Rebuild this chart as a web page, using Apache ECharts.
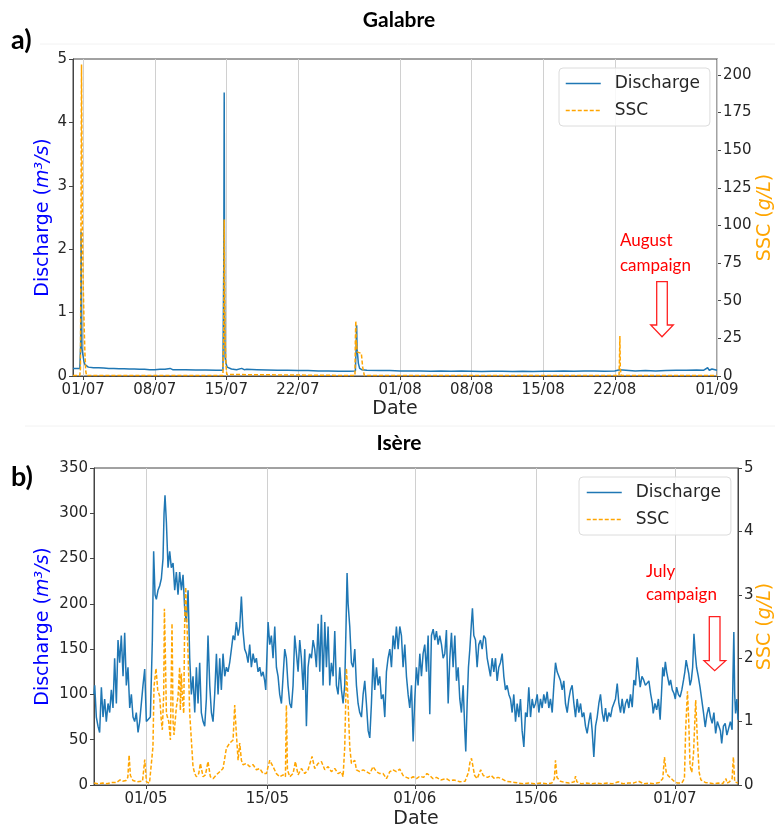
<!DOCTYPE html>
<html><head><meta charset="utf-8">
<script src="https://cdn.jsdelivr.net/npm/echarts@6/dist/echarts.min.js"></script>
<style>html,body{margin:0;padding:0;background:#fff}#c{width:775px;height:827px}</style>
</head><body><div id="c"></div>
<script>
// ---------- Galabre (hours since 30/06 00:00) ----------
const galabreStart = '2022-06-30T00:00:00Z';
const galabreEnd = '2022-09-01T00:00:00Z';
const galabreTicks = ['2022-07-01','2022-07-08','2022-07-15','2022-07-22','2022-08-01','2022-08-08','2022-08-15','2022-08-22','2022-09-01'];
const galabreDischarge = [[0,0.12],[4,0.13],[8,0.12],[12,0.125],[16,0.12],[18,0.5],[19,2.27],[20,1.2],[21,0.45],[22,0.38],[24,0.3],[26,0.22],[28,0.18],[30,0.15],[36,0.14],[48,0.13],[60,0.13],[72,0.125],[84,0.12],[96,0.12],[108,0.115],[120,0.115],[132,0.11],[144,0.11],[156,0.105],[168,0.105],[180,0.1],[192,0.1],[204,0.105],[216,0.105],[228,0.12],[234,0.1],[240,0.1],[264,0.1],[288,0.095],[312,0.095],[336,0.09],[352,0.09],[354,1.8],[355,4.47],[356,1.2],[357,0.3],[359,0.2],[362,0.14],[366,0.12],[372,0.11],[384,0.1],[396,0.12],[402,0.1],[408,0.105],[432,0.1],[456,0.095],[480,0.09],[504,0.09],[528,0.085],[552,0.085],[576,0.08],[600,0.08],[624,0.075],[648,0.075],[663,0.08],[665,0.5],[666,0.8],[667,0.4],[668,0.35],[670,0.2],[673,0.12],[678,0.1],[690,0.09],[720,0.085],[744,0.085],[768,0.08],[792,0.08],[816,0.08],[840,0.075],[864,0.08],[888,0.075],[912,0.08],[936,0.075],[960,0.07],[984,0.075],[1008,0.075],[1032,0.07],[1056,0.075],[1080,0.07],[1104,0.075],[1128,0.075],[1152,0.08],[1176,0.075],[1200,0.08],[1224,0.08],[1248,0.075],[1272,0.08],[1283,0.1],[1286,0.08],[1320,0.08],[1344,0.085],[1368,0.08],[1392,0.085],[1416,0.09],[1440,0.09],[1464,0.095],[1480,0.09],[1490,0.13],[1494,0.09],[1500,0.11],[1512,0.09]];
const galabreSSC = [[0,0.3],[16,0.3],[17.5,5],[18,40],[20,207],[22,100],[24,60],[26,35],[28,15],[30,3],[32,0.3],[352,0.3],[354,30],[355,104],[356,60],[357,25],[359,8],[361,1],[364,0.3],[662,0.3],[663,25],[664,36.5],[665,20],[666,22],[667,16],[670,15.7],[677,15],[680,6],[684,0.3],[1282,0.3],[1283,10],[1284,26.6],[1285,5],[1287,0.3],[1512,0.3]];

// ---------- Isère (days since 25/04 00:00) ----------
const isereStart = '2022-04-25T00:00:00Z';
const isereEndDay = 74.28;
const isereTicks = ['2022-05-01','2022-05-15','2022-06-01','2022-06-15','2022-07-01'];
const isereDischarge = [[0,100],[0.08,110],[0.27,75],[0.46,65],[0.65,58],[0.85,108],[1.04,75],[1.23,95],[1.42,70],[1.62,90],[1.81,80],[2.0,105],[2.19,85],[2.38,140],[2.58,90],[2.77,160],[2.96,135],[3.15,165],[3.35,120],[3.54,168],[3.73,110],[3.92,130],[4.12,85],[4.31,100],[4.5,75],[4.69,70],[4.88,80],[5.08,58],[5.27,70],[5.46,70],[5.65,110],[5.85,128],[6.04,70],[6.23,68],[6.5,75],[6.73,160],[6.88,258],[7.04,210],[7.19,205],[7.38,215],[7.58,220],[7.77,228],[7.96,250],[8.08,300],[8.19,320],[8.35,290],[8.54,240],[8.73,258],[8.92,240],[9.12,245],[9.31,215],[9.5,235],[9.69,210],[9.88,235],[10.08,215],[10.27,232],[10.46,195],[10.65,180],[10.85,215],[11.04,140],[11.23,100],[11.42,120],[11.62,80],[11.81,130],[12.0,90],[12.19,135],[12.38,80],[12.58,70],[12.77,65],[12.96,95],[13.15,165],[13.35,110],[13.54,80],[13.73,70],[13.92,100],[14.12,145],[14.31,100],[14.5,140],[14.69,105],[14.88,145],[15.08,120],[15.27,130],[15.46,125],[15.65,135],[15.85,150],[16.04,165],[16.23,160],[16.42,180],[16.62,165],[16.81,175],[17.0,208],[17.19,170],[17.38,150],[17.58,145],[17.77,135],[17.96,155],[18.15,130],[18.35,145],[18.54,135],[18.73,140],[18.92,125],[19.12,130],[19.31,120],[19.5,125],[19.69,115],[19.81,105],[20.08,180],[20.27,155],[20.46,165],[20.65,140],[20.85,175],[21.04,130],[21.23,120],[21.42,100],[21.62,90],[21.81,120],[22.0,150],[22.19,140],[22.38,110],[22.58,90],[22.77,85],[22.96,110],[23.15,165],[23.35,145],[23.54,125],[23.73,160],[23.92,140],[24.12,105],[24.31,150],[24.5,65],[24.69,130],[24.88,145],[25.08,140],[25.27,160],[25.46,150],[25.65,130],[25.85,178],[26.04,125],[26.23,188],[26.42,110],[26.62,180],[26.81,130],[27.0,175],[27.19,110],[27.38,135],[27.58,120],[27.77,170],[27.96,110],[28.15,100],[28.35,130],[28.54,105],[28.73,90],[28.92,110],[29.08,180],[29.19,234],[29.31,200],[29.5,175],[29.69,135],[29.88,130],[30.08,150],[30.27,110],[30.46,90],[30.65,80],[30.85,75],[31.04,100],[31.23,115],[31.42,90],[31.62,60],[31.81,52],[32.0,90],[32.19,140],[32.38,105],[32.58,130],[32.77,110],[32.96,120],[33.15,95],[33.35,100],[33.54,75],[33.73,125],[33.92,140],[34.12,150],[34.31,130],[34.5,165],[34.69,150],[34.88,175],[35.08,150],[35.27,175],[35.46,165],[35.65,130],[35.85,155],[36.04,120],[36.23,100],[36.42,85],[36.62,110],[36.81,48],[37.0,95],[37.19,130],[37.38,110],[37.58,145],[37.77,120],[37.96,145],[38.15,155],[38.35,125],[38.54,165],[38.73,78],[38.92,165],[39.12,172],[39.31,160],[39.5,170],[39.69,155],[39.88,165],[40.08,155],[40.27,140],[40.46,145],[40.65,171],[40.85,90],[41.04,140],[41.23,168],[41.42,130],[41.62,165],[41.81,115],[42.0,130],[42.19,95],[42.38,80],[42.58,110],[42.77,60],[42.88,37],[43.04,90],[43.19,130],[43.35,150],[43.54,180],[43.65,195],[43.81,165],[44.0,160],[44.19,130],[44.38,155],[44.58,160],[44.77,150],[44.96,165],[45.15,162],[45.35,140],[45.54,130],[45.73,120],[45.92,140],[46.12,125],[46.31,140],[46.5,115],[46.69,130],[46.88,135],[47.08,145],[47.27,120],[47.46,105],[47.65,110],[47.85,100],[48.04,95],[48.23,80],[48.42,100],[48.62,70],[48.81,90],[49.0,75],[49.19,95],[49.38,60],[49.58,42],[49.77,80],[49.96,75],[50.15,108],[50.35,75],[50.54,95],[50.73,85],[50.92,90],[51.12,100],[51.31,80],[51.5,95],[51.69,85],[51.88,100],[52.08,90],[52.27,103],[52.46,85],[52.65,95],[52.85,80],[53.04,110],[53.23,135],[53.42,125],[53.62,120],[53.81,115],[54.0,105],[54.19,115],[54.38,90],[54.58,80],[54.77,95],[54.96,105],[55.15,110],[55.35,90],[55.54,75],[55.73,95],[55.92,80],[56.12,90],[56.31,75],[56.5,80],[56.69,65],[56.88,57],[57.08,70],[57.27,80],[57.46,60],[57.65,31],[57.85,65],[58.04,75],[58.23,90],[58.42,100],[58.62,80],[58.81,70],[59.0,85],[59.19,70],[59.38,80],[59.58,75],[59.77,85],[59.96,90],[60.15,95],[60.35,112],[60.54,90],[60.73,80],[60.92,95],[61.12,79],[61.31,90],[61.5,95],[61.69,85],[61.88,100],[62.08,86],[62.27,116],[62.46,110],[62.65,141],[63.0,108],[63.2,120],[63.4,116],[63.6,110],[63.8,108],[64.0,115],[64.2,101],[64.4,90],[64.5,79],[64.7,90],[64.9,83],[65.1,95],[65.3,72],[65.45,100],[65.6,130],[65.75,120],[65.9,136],[66.05,125],[66.2,123],[66.35,110],[66.5,116],[66.7,105],[66.9,101],[67.05,95],[67.2,108],[67.4,100],[67.6,97],[67.8,105],[68.0,116],[68.15,125],[68.3,138],[68.45,130],[68.6,123],[68.75,110],[68.9,116],[69.05,130],[69.2,167],[69.35,145],[69.5,130],[69.7,120],[69.9,108],[70.1,94],[70.3,80],[70.5,64],[70.7,78],[70.9,86],[71.1,75],[71.3,68],[71.5,80],[71.7,57],[71.9,70],[72.1,72],[72.25,60],[72.4,46],[72.6,65],[72.8,68],[73.0,55],[73.2,57],[73.4,70],[73.6,61],[73.7,120],[73.8,169],[73.9,100],[74.0,79],[74.15,95],[74.28,72]];
const isereSSC = [[0,0.03],[0.5,0.02],[1.0,0.03],[1.5,0.02],[2.0,0.04],[2.2,0.05],[2.6,0.04],[3.0,0.08],[3.3,0.06],[3.7,0.07],[3.9,0.12],[4.05,0.47],[4.2,0.15],[4.5,0.07],[5.0,0.05],[5.6,0.06],[5.85,0.4],[6.05,0.05],[6.4,0.03],[6.6,0.05],[6.8,0.6],[6.92,1.55],[7.15,1.84],[7.35,1.5],[7.58,1.4],[7.77,1.0],[7.88,0.87],[8.04,1.44],[8.12,2.78],[8.23,2.07],[8.35,1.13],[8.46,1.15],[8.62,1.0],[8.81,0.71],[9.0,2.55],[9.12,1.0],[9.23,0.79],[9.38,0.81],[9.5,1.23],[9.69,1.39],[9.88,1.86],[9.96,1.18],[10.08,1.76],[10.19,1.39],[10.35,1.13],[10.46,2.6],[10.58,3.12],[10.73,2.5],[10.85,2.07],[11.04,1.13],[11.23,0.71],[11.42,0.29],[11.62,0.18],[11.81,0.13],[12.08,0.18],[12.27,0.34],[12.58,0.13],[12.85,0.16],[13.15,0.37],[13.42,0.13],[13.73,0.1],[14.12,0.16],[14.5,0.21],[14.88,0.26],[15.27,0.58],[15.65,0.66],[16.04,0.71],[16.23,1.26],[16.42,0.81],[16.62,0.39],[16.81,0.66],[17.0,0.39],[17.19,0.32],[17.58,0.34],[17.96,0.29],[18.35,0.32],[18.73,0.24],[19.12,0.26],[19.5,0.18],[19.88,0.18],[20.27,0.39],[20.65,0.29],[21.04,0.18],[21.42,0.13],[21.81,0.16],[22.08,0.13],[22.19,1.26],[22.31,0.24],[22.58,0.13],[22.96,0.18],[23.23,0.37],[23.54,0.16],[23.92,0.26],[24.31,0.18],[24.69,0.24],[25.15,0.45],[25.46,0.26],[25.85,0.34],[26.23,0.37],[26.62,0.24],[27.0,0.29],[27.38,0.21],[27.77,0.26],[28.15,0.18],[28.54,0.21],[28.73,0.13],[28.92,0.6],[29.12,1.84],[29.31,1.29],[29.5,0.6],[29.69,0.34],[29.88,0.34],[30.08,0.39],[30.27,0.24],[30.65,0.21],[31.04,0.24],[31.42,0.21],[31.81,0.18],[32.19,0.29],[32.58,0.21],[32.96,0.18],[33.35,0.18],[33.73,0.1],[34.12,0.21],[34.5,0.24],[34.88,0.21],[35.27,0.25],[35.65,0.15],[36.04,0.12],[36.42,0.1],[36.81,0.13],[37.2,0.1],[37.6,0.14],[38.0,0.12],[38.4,0.18],[38.73,0.15],[39.1,0.1],[39.5,0.12],[40.0,0.08],[40.65,0.1],[41.0,0.07],[41.5,0.08],[42.2,0.05],[42.8,0.06],[43.2,0.2],[43.35,0.35],[43.54,0.42],[43.7,0.3],[43.9,0.15],[44.2,0.1],[44.6,0.24],[44.9,0.15],[45.4,0.12],[45.8,0.15],[46.2,0.1],[46.6,0.12],[47.0,0.1],[47.5,0.06],[48.0,0.05],[48.5,0.04],[49.0,0.03],[49.5,0.02],[50.2,0.03],[50.8,0.02],[51.5,0.03],[52.2,0.02],[52.8,0.03],[53.1,0.1],[53.23,0.39],[53.4,0.12],[53.8,0.06],[54.3,0.04],[54.8,0.03],[55.4,0.05],[55.54,0.14],[55.7,0.05],[56.2,0.02],[56.8,0.03],[57.4,0.02],[58.0,0.03],[58.6,0.02],[59.2,0.03],[59.8,0.02],[60.5,0.05],[61.0,0.02],[61.6,0.03],[62.2,0.03],[62.8,0.06],[63.4,0.02],[64.0,0.03],[64.6,0.02],[65.2,0.04],[65.6,0.1],[65.8,0.44],[66.0,0.2],[66.2,0.15],[66.6,0.1],[66.9,0.06],[67.3,0.03],[67.8,0.03],[68.1,0.1],[68.25,0.9],[68.45,1.48],[68.6,1.0],[68.75,0.3],[68.95,0.2],[69.15,0.5],[69.4,1.34],[69.6,0.7],[69.8,0.2],[70.0,0.08],[70.5,0.04],[71.0,0.03],[71.5,0.02],[72.0,0.03],[72.5,0.02],[72.9,0.1],[73.0,0.03],[73.3,0.05],[73.6,0.1],[73.75,0.44],[73.9,0.05],[74.28,0.03]];

const legendNames = ['Discharge', 'SSC'];
const rightTicksTop = [0,25,50,75,100,125,150,175,200];

// ---------- helpers ----------
const HOUR = 3600e3, DAY = 24*HOUR;
const t0g = Date.parse(galabreStart), t0i = Date.parse(isereStart);
const toTs = s => Date.parse(s + 'T00:00:00Z');
const pad = n => (n < 10 ? '0' : '') + n;
const fmt = v => { const d = new Date(v); return pad(d.getUTCDate()) + '/' + pad(d.getUTCMonth() + 1); };
const gTicks = galabreTicks.map(toTs), iTicks = isereTicks.map(toTs);

const BLUE = '#1f77b4', ORANGE = '#ffa500';
const TICKFONT = {fontFamily: 'DejaVu Sans', fontSize: 15, color: '#262626'};
const AXISLINE = {show: true, lineStyle: {color: '#444', width: 1}};
const TICK = {show: true, length: 4, lineStyle: {color: '#444'}};

function xAxis(gridIndex, min, max, ticks, gap) {
  return {
    type: 'value', gridIndex, min, max, scale: true,
    axisLine: AXISLINE, splitLine: {show: false},
    axisTick: Object.assign({customValues: ticks}, TICK),
    axisLabel: Object.assign({customValues: ticks, formatter: fmt, margin: 7, showMinLabel: true, showMaxLabel: true}, TICKFONT),
    name: 'Date', nameLocation: 'middle', nameGap: gap, nameMoveOverlap: false,
    nameTextStyle: {fontFamily: 'DejaVu Sans', fontSize: 19, color: '#262626'}
  };
}
function leftAxis(gridIndex, max, interval, gap) {
  return {
    type: 'value', gridIndex, min: 0, max, interval, position: 'left',
    axisLine: AXISLINE, axisTick: TICK, splitLine: {show: false},
    axisLabel: Object.assign({margin: 6}, TICKFONT),
    name: '{n|Discharge (}{i|m³/s}{n|)}', nameLocation: 'middle', nameRotate: 90, nameGap: gap, nameMoveOverlap: false,
    nameTextStyle: {rich: {
      n: {fontFamily: 'DejaVu Sans', fontSize: 19, color: 'blue'},
      i: {fontFamily: 'DejaVu Sans', fontSize: 19, fontStyle: 'italic', color: 'blue'}
    }}
  };
}
function rightAxis(gridIndex, max, interval, gap, custom) {
  const a = {
    type: 'value', gridIndex, min: 0, max, interval, position: 'right',
    axisLine: AXISLINE, axisTick: Object.assign({}, TICK), splitLine: {show: false},
    axisLabel: Object.assign({margin: 6}, TICKFONT),
    name: '{n|SSC (}{i|g/L}{n|)}', nameLocation: 'middle', nameRotate: 90, nameGap: gap, nameMoveOverlap: false,
    nameTextStyle: {rich: {
      n: {fontFamily: 'DejaVu Sans', fontSize: 19, color: ORANGE},
      i: {fontFamily: 'DejaVu Sans', fontSize: 19, fontStyle: 'italic', color: ORANGE}
    }}
  };
  if (custom) { a.axisTick.customValues = custom; a.axisLabel.customValues = custom; }
  return a;
}
function gridLines(ticks) {
  return {
    silent: true, symbol: 'none', z: 1, animation: false,
    label: {show: false},
    lineStyle: {color: '#d0d0d0', width: 1, type: 'solid'},
    emphasis: {disabled: true},
    data: ticks.map(t => ({xAxis: t}))
  };
}
function lineSeries(name, xi, yi, data, color, dashed, mark) {
  const s = {
    name, type: 'line', xAxisIndex: xi, yAxisIndex: yi, data,
    symbol: 'none', showSymbol: false, animation: false, z: 3,
    lineStyle: {color, width: 1.5, type: dashed ? [4, 2] : 'solid'},
    itemStyle: {color},
    emphasis: {disabled: true}
  };
  if (mark) s.markLine = mark;
  return s;
}
function legend(left, top, padLeft) {
  return {
    data: legendNames, orient: 'vertical', left, top,
    itemWidth: 35, itemHeight: 12, itemGap: 10,
    padding: [7, 10, 7, padLeft],
    borderColor: '#dcdcdc', borderWidth: 1, borderRadius: 4,
    backgroundColor: 'rgba(255,255,255,0.85)',
    selectedMode: false,
    itemStyle: {opacity: 0},
    lineStyle: {width: 1.5},
    textStyle: {fontFamily: 'DejaVu Sans', fontSize: 17, color: '#262626', padding: [0, 0, 0, 9]}
  };
}

const gQ = galabreDischarge.map(p => [t0g + p[0]*HOUR, p[1]]);
const gS = galabreSSC.map(p => [t0g + p[0]*HOUR, p[1]]);
const iQ = isereDischarge.map(p => [t0i + p[0]*DAY, p[1]]);
const iS = isereSSC.map(p => [t0i + p[0]*DAY, p[1]]);

const txt = (text, x, y, font, fill, align) => ({type: 'text', silent: true, z: 50,
  style: {text, x, y, font, fill: fill || '#000', align: align || 'left', verticalAlign: 'middle'}});
const arrow = pts => ({type: 'polygon', silent: true, z: 50,
  shape: {points: pts}, style: {fill: 'rgba(255,255,255,0)', stroke: '#ff2020', lineWidth: 1.3}});

const option = {
  animation: false, backgroundColor: '#fff',
  grid: [
    {left: 73, top: 59, width: 644, height: 317, show: true, borderColor: '#444', borderWidth: 1, backgroundColor: 'transparent', containLabel: false, outerBoundsMode: 'none'},
    {left: 94, top: 468, width: 644, height: 317, show: true, borderColor: '#444', borderWidth: 1, backgroundColor: 'transparent', containLabel: false, outerBoundsMode: 'none'}
  ],
  xAxis: [
    xAxis(0, t0g, Date.parse(galabreEnd), gTicks, 24),
    xAxis(1, t0i, t0i + isereEndDay*DAY, iTicks, 25)
  ],
  yAxis: [
    leftAxis(0, 5, 1, 20),
    rightAxis(0, 210.6, 25, 39, rightTicksTop),
    leftAxis(1, 350, 50, 41),
    rightAxis(1, 5, 1, 18)
  ],
  legend: [legend(559, 68, 6), legend(579, 477, 7)],
  series: [
    lineSeries('Discharge', 0, 0, gQ, BLUE, false, gridLines(gTicks)),
    lineSeries('SSC', 0, 1, gS, ORANGE, true),
    lineSeries('Discharge', 1, 2, iQ, BLUE, false, gridLines(iTicks)),
    lineSeries('SSC', 1, 3, iS, ORANGE, true)
  ],
  graphic: [
    {type: 'line', silent: true, shape: {x1: 40, y1: 44, x2: 775, y2: 44}, style: {stroke: '#f2f2f2', lineWidth: 1}},
    {type: 'line', silent: true, shape: {x1: 25, y1: 426, x2: 775, y2: 426}, style: {stroke: '#f2f2f2', lineWidth: 1}},
    txt('a)', 11, 40, 'bold 27px Lato'),
    txt('b)', 11, 477, 'bold 27px Lato'),
    txt('Galabre', 399, 20, 'bold 21px Lato', '#000', 'center'),
    txt('Isère', 399, 443, 'bold 21px Lato', '#000', 'center'),
    txt('August', 620, 241, '17px Lato', '#ff0000'),
    txt('campaign', 620, 266, '17px Lato', '#ff0000'),
    txt('July', 646, 572, '17px Lato', '#ff0000'),
    txt('campaign', 646, 595, '17px Lato', '#ff0000'),
    arrow([[656.7,281.7],[667.3,281.7],[667.3,325],[673.3,325],[662,336.7],[650.7,325],[656.7,325]]),
    arrow([[709.3,616.7],[720,616.7],[720,660.7],[725.7,660.7],[714.7,670.7],[704,660.7],[709.3,660.7]])
  ]
};
const chart = echarts.init(document.getElementById('c'), null, {renderer: 'canvas'});
chart.setOption(option);
</script>
</body></html>
